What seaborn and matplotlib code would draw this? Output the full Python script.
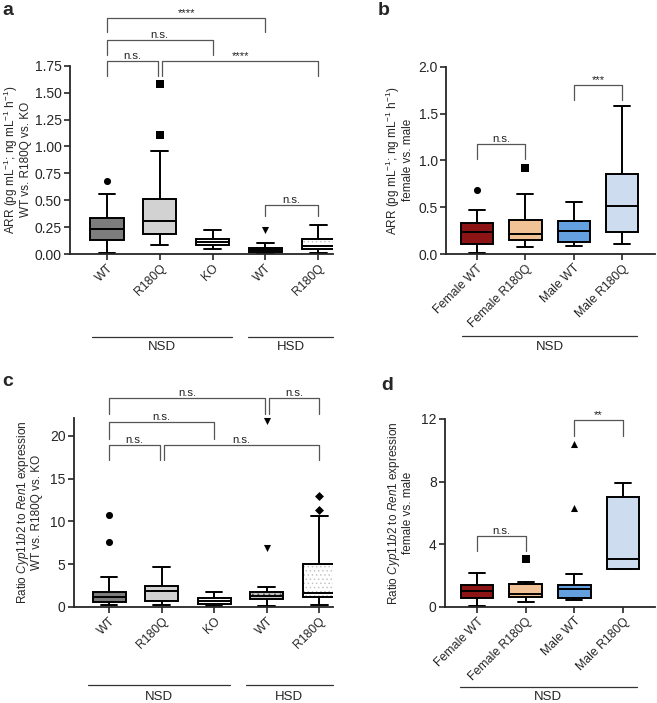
import numpy as np
import pandas as pd
import seaborn as sns
import matplotlib.pyplot as plt
import matplotlib.transforms as mtransforms

sns.set_style("ticks")
plt.rcParams['font.family'] = ['Liberation Sans', 'DejaVu Sans']
plt.rcParams['mathtext.fontset'] = 'custom'
plt.rcParams['mathtext.rm'] = 'Liberation Sans'
plt.rcParams['mathtext.it'] = 'Liberation Sans:italic'
plt.rcParams['hatch.linewidth'] = 0.5

# ---------------- data ----------------
# Panel a: ARR, WT vs R180Q vs KO (NSD) and WT, R180Q (HSD)
a_groups = ["NSD WT", "NSD R180Q", "NSD KO", "HSD WT", "HSD R180Q"]
a_labels = ["WT", "R180Q", "KO", "WT", "R180Q"]
a_low = [0.01, 0.08, 0.05, 0.00, 0.01]
a_q1 = [0.13, 0.19, 0.08, 0.02, 0.05]
a_med = [0.23, 0.31, 0.11, 0.04, 0.07]
a_q3 = [0.33, 0.51, 0.14, 0.06, 0.135]
a_high = [0.56, 0.96, 0.22, 0.10, 0.27]
a_out_pos = [0, 1, 1, 3]
a_out_val = [0.68, 1.11, 1.58, 0.22]
a_out_mark = ["o", "s", "s", "v"]

# Panel b: ARR, female vs male
b_groups = ["Female WT", "Female R180Q", "Male WT", "Male R180Q"]
b_labels = ["Female WT", "Female R180Q", "Male WT", "Male R180Q"]
b_low = [0.01, 0.08, 0.085, 0.11]
b_q1 = [0.11, 0.15, 0.13, 0.24]
b_med = [0.23, 0.21, 0.25, 0.51]
b_q3 = [0.33, 0.36, 0.35, 0.85]
b_high = [0.47, 0.64, 0.56, 1.58]
b_out_pos = [0, 1]
b_out_val = [0.68, 0.92]
b_out_mark = ["o", "s"]

# Panel c: Cyp11b2 / Ren1 ratio, WT vs R180Q vs KO
c_groups = a_groups
c_labels = a_labels
c_low = [0.25, 0.2, 0.1, 0.1, 0.2]
c_q1 = [0.6, 0.74, 0.31, 0.9, 1.13]
c_med = [1.13, 1.87, 0.65, 1.3, 1.6]
c_q3 = [1.72, 2.46, 1.05, 1.75, 5.05]
c_high = [3.47, 4.68, 1.8, 2.35, 10.6]
c_out_pos = [0, 0, 3, 3, 4, 4]
c_out_val = [7.65, 10.7, 6.85, 21.8, 11.4, 13.0]
c_out_mark = ["o", "o", "v", "v", "D", "D"]

# Panel d: Cyp11b2 / Ren1 ratio, female vs male
d_groups = b_groups
d_labels = b_labels
d_low = [0.06, 0.32, 0.45, 2.4]
d_q1 = [0.55, 0.66, 0.55, 2.45]
d_med = [1.04, 0.83, 1.17, 3.08]
d_q3 = [1.40, 1.49, 1.43, 7.0]
d_high = [2.17, 1.62, 2.09, 7.93]
d_out_pos = [1, 2, 2]
d_out_val = [3.04, 6.32, 10.4]
d_out_mark = ["s", "^", "^"]

gray_colors = ["#7d7d7d", "#d2d2d2", "#ffffff", "#c4c4c4", "#ffffff"]
sex_colors = ["#a00000", "#ffc287", "#4f9ef5", "#c7dcf5"]

fig = plt.figure(figsize=(6.57, 7.03), dpi=100)

LW = 1.4
TICK_FS = 10
XT_FS = 8.8
YL_FS = 8.5


def make_box(ax, groups, labels, low, q1, med, q3, high, colors, width):
    vals = np.column_stack([low, q1, med, q3, high])
    df = pd.DataFrame({"group": np.repeat(groups, 5), "value": vals.ravel()})
    sns.boxplot(data=df, x="group", y="value", hue="group", order=groups,
                hue_order=groups, palette=colors, whis=(0, 100), width=width,
                linewidth=LW, linecolor="black", showfliers=False,
                legend=False, ax=ax)
    ax.set_xticks(range(len(groups)))
    ax.set_xticklabels(labels, rotation=45, ha="right", rotation_mode="anchor",
                       fontsize=XT_FS)
    ax.set_xlabel("")


def outliers(ax, pos, val, marks, size):
    for p, v, m in zip(pos, val, marks):
        s = size * (0.8 if m == "D" else 1.0)
        ax.scatter([p], [v], marker=m, s=s, color="black", zorder=5,
                   clip_on=False, linewidths=0)


def bracket(ax, x1, x2, y, h1, h2, text, fs=8.2):
    ax.plot([x1, x1, x2, x2], [h1, y, y, h2], color="#555555", lw=0.9,
            clip_on=False, zorder=6)
    ax.text((x1 + x2) / 2, y, text, ha="center", va="bottom", fontsize=fs,
            color="#222222", clip_on=False)


def style(ax):
    for s in ["top", "right"]:
        ax.spines[s].set_visible(False)
    for s in ["left", "bottom"]:
        ax.spines[s].set_linewidth(1.3)
    ax.tick_params(axis="both", width=1.2, length=4, labelsize=TICK_FS,
                   pad=2)
    ax.tick_params(axis="x", labelsize=XT_FS)


def group_line(ax, x1, x2, y, ty, label):
    tr = mtransforms.blended_transform_factory(ax.transData, ax.transAxes)
    ax.plot([x1, x2], [y, y], color="#333333", lw=0.9, transform=tr,
            clip_on=False)
    ax.text((x1 + x2) / 2, ty, label, ha="center", va="center", fontsize=9.5,
            transform=tr)


# -------- panel a --------
axa = fig.add_axes([70 / 657, 1 - 254 / 703, 263 / 657, (254 - 65.7) / 703])
make_box(axa, a_groups, a_labels, a_low, a_q1, a_med, a_q3, a_high,
         gray_colors, 0.63)
outliers(axa, a_out_pos, a_out_val, a_out_mark, 26)
axa.set_ylim(0, 1.75)
axa.set_xlim(-0.70, 4.28)
axa.set_yticks([0, 0.25, 0.5, 0.75, 1.0, 1.25, 1.5, 1.75])
axa.set_yticklabels(["0.00", "0.25", "0.50", "0.75", "1.00", "1.25", "1.50", "1.75"])
axa.set_ylabel("ARR (pg mL$^{-1}$; ng mL$^{-1}$ h$^{-1}$)\nWT vs. R180Q vs. KO",
               fontsize=YL_FS, labelpad=2, linespacing=1.0)
style(axa)
bracket(axa, 0, 3, 2.19, 2.06, 2.06, "****")
bracket(axa, 0, 2, 1.99, 1.85, 1.85, "n.s.")
bracket(axa, 0, 0.97, 1.79, 1.65, 1.65, "n.s.")
bracket(axa, 1.05, 4, 1.79, 1.65, 1.65, "****")
bracket(axa, 3, 4, 0.46, 0.35, 0.35, "n.s.")
group_line(axa, -0.28, 2.37, -0.44, -0.495, "NSD")
group_line(axa, 2.67, 4.28, -0.44, -0.495, "HSD")

# -------- panel b --------
axb = fig.add_axes([446 / 657, 1 - 254 / 703, 209 / 657, (254 - 66.7) / 703])
make_box(axb, b_groups, b_labels, b_low, b_q1, b_med, b_q3, b_high,
         sex_colors, 0.67)
outliers(axb, b_out_pos, b_out_val, b_out_mark, 26)
axb.set_ylim(0, 2.0)
axb.set_xlim(-0.64, 3.68)
axb.set_yticks([0, 0.5, 1.0, 1.5, 2.0])
axb.set_yticklabels(["0.0", "0.5", "1.0", "1.5", "2.0"])
axb.set_ylabel("ARR (pg mL$^{-1}$; ng mL$^{-1}$ h$^{-1}$)\nfemale vs. male",
               fontsize=YL_FS, labelpad=3, linespacing=1.0)
style(axb)
bracket(axb, 0, 1, 1.17, 1.01, 1.01, "n.s.")
bracket(axb, 2, 3, 1.80, 1.64, 1.64, "***")
group_line(axb, -0.31, 3.31, -0.44, -0.495, "NSD")

# -------- panel c --------
axc = fig.add_axes([74 / 657, 1 - 607 / 703, 259 / 657, 189 / 703])
make_box(axc, c_groups, c_labels, c_low, c_q1, c_med, c_q3, c_high,
         gray_colors, 0.63)
outliers(axc, c_out_pos, c_out_val, c_out_mark, 26)
axc.set_ylim(0, 22.1)
axc.set_xlim(-0.667, 4.26)
axc.set_yticks([0, 5, 10, 15, 20])
axc.set_ylabel("Ratio $\\it{Cyp11b2}$ to $\\it{Ren1}$ expression\nWT vs. R180Q vs. KO",
               fontsize=YL_FS, labelpad=5, linespacing=1.0)
style(axc)
bracket(axc, 0, 2.96, 24.4, 22.6, 22.6, "n.s.")
bracket(axc, 3.04, 4, 24.4, 22.6, 22.6, "n.s.")
bracket(axc, 0, 2, 21.6, 19.7, 19.7, "n.s.")
bracket(axc, 0, 0.97, 18.9, 17.2, 17.2, "n.s.")
bracket(axc, 1.05, 4, 18.9, 17.2, 17.2, "n.s.")
group_line(axc, -0.4, 2.3, -0.413, -0.476, "NSD")
group_line(axc, 2.6, 4.26, -0.413, -0.476, "HSD")

# -------- panel d --------
axd = fig.add_axes([445 / 657, 1 - 607 / 703, 210 / 657, 188 / 703])
make_box(axd, d_groups, d_labels, d_low, d_q1, d_med, d_q3, d_high,
         sex_colors, 0.67)
outliers(axd, d_out_pos, d_out_val, d_out_mark, 26)
axd.set_ylim(0, 12)
axd.set_xlim(-0.66, 3.66)
axd.set_yticks([0, 4, 8, 12])
axd.set_ylabel("Ratio $\\it{Cyp11b2}$ to $\\it{Ren1}$ expression\nfemale vs. male",
               fontsize=YL_FS, labelpad=5, linespacing=1.0)
style(axd)
bracket(axd, 0, 1, 4.53, 3.6, 3.6, "n.s.")
bracket(axd, 2, 3, 11.93, 10.9, 10.9, "**")
group_line(axd, -0.35, 3.28, -0.426, -0.479, "NSD")

# hatching for HSD boxes
for ax in (axa, axc):
    patches = [p for p in ax.patches]
    if len(patches) >= 5:
        patches[3].set_hatch("...")
        patches[3]._hatch_color = (0.3, 0.3, 0.3, 1)
        patches[4].set_hatch("....")
        patches[4]._hatch_color = (0.75, 0.75, 0.75, 1)

# panel letters
for lab, x, y in [("a", 2, 2), ("b", 378, 2), ("c", 2, 373), ("d", 381, 377)]:
    fig.text(x / 657, 1 - y / 703, lab, fontsize=14, fontweight="bold",
             va="top", ha="left")

fig.savefig("out.png", dpi=100)
